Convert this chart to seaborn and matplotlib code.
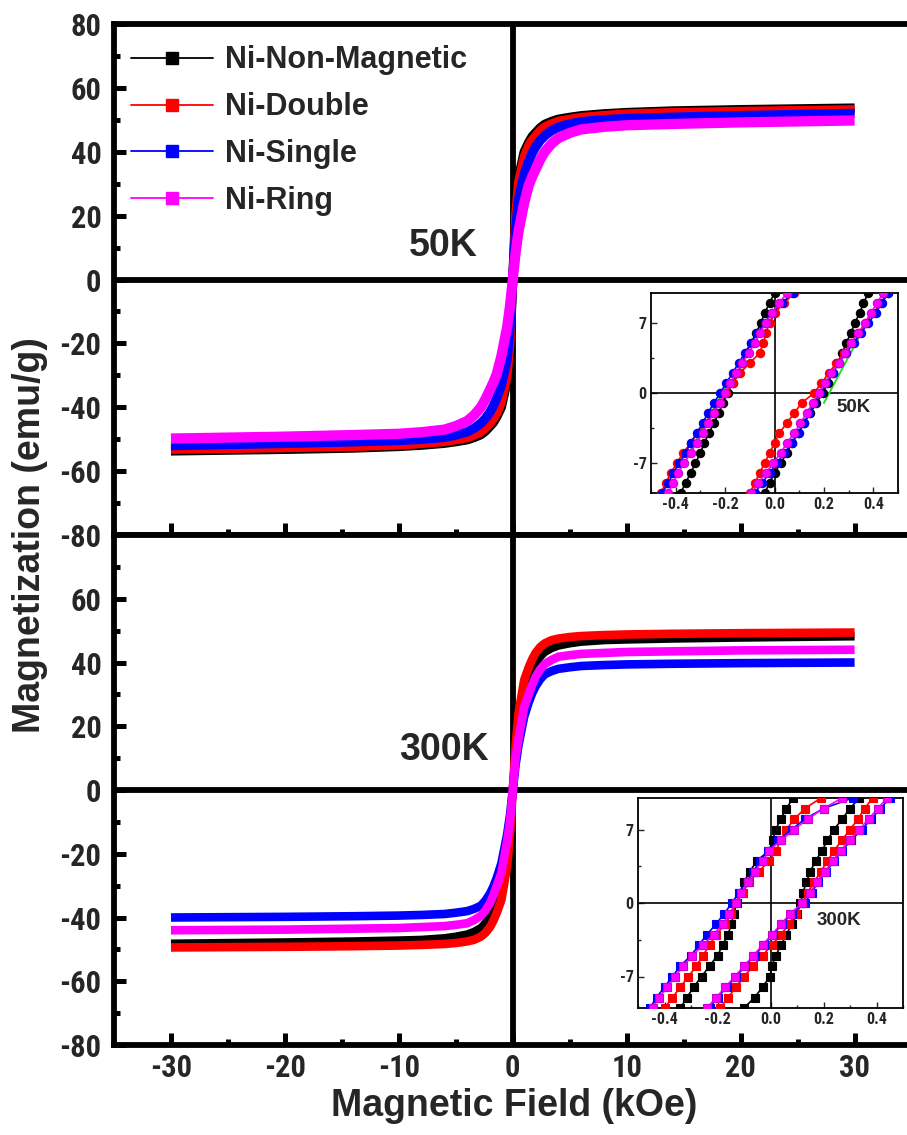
import matplotlib
matplotlib.use("Agg")
import numpy as np
import pandas as pd
import seaborn as sns
import matplotlib.pyplot as plt
from matplotlib.lines import Line2D
from matplotlib.ticker import MultipleLocator, FixedLocator
from matplotlib import font_manager

sns.set_theme(style="white")
plt.rcParams['font.family'] = ['Liberation Sans', 'DejaVu Sans']
plt.rcParams['font.weight'] = 'bold'

_avail = {f.name for f in font_manager.fontManager.ttflist}
_narrow = next((n for n in ['Liberation Sans Narrow', 'Arial Narrow', 'Roboto Condensed',
                            'Open Sans Condensed', 'DejaVu Sans Condensed'] if n in _avail), None)
if _narrow is not None:
    NARROW = [_narrow, 'Liberation Sans', 'DejaVu Sans']
    TICK_FS = 22
else:
    NARROW = ['Liberation Sans', 'DejaVu Sans']
    TICK_FS = 20.5

# ---------------- data ----------------
SERIES = ['Ni-Non-Magnetic', 'Ni-Double', 'Ni-Single', 'Ni-Ring']
COLORS = ['#000000', '#ff0000', '#0000ff', '#ff00ff']

FIELD = [-30, -20, -14, -10, -8, -6, -5, -4, -3.4, -2.8, -2.4, -2, -1.7, -1.4, -1, -0.5, -0.25, 0,
         0.25, 0.5, 1, 1.4, 1.7, 2, 2.4, 2.8, 3.4, 4, 5, 6, 8, 10, 14, 20, 30]

M50_NONMAG = [-53.7, -53.2, -52.8, -52.3, -51.9, -51.3, -50.8, -50.2, -49.5, -48.6, -47.5, -46, -44.8,
              -43, -40, -32, -22, 0, 22, 32, 40, 43, 44.8, 46, 47.5, 48.6, 49.5, 50.2, 50.8, 51.3,
              51.9, 52.3, 52.8, 53.2, 53.7]
M50_DOUBLE = [-53.2, -52.7, -52.3, -51.9, -51.4, -50.8, -50.2, -49.6, -48.8, -47.8, -46.6, -45, -43.7,
              -42, -38.5, -30.5, -20.5, 0, 20.5, 30.5, 38.5, 42, 43.7, 45, 46.6, 47.8, 48.8, 49.6,
              50.2, 50.8, 51.4, 51.9, 52.3, 52.7, 53.2]
M50_SINGLE = [-52, -51.3, -50.8, -50.4, -50, -49.4, -48.7, -47.7, -46.6, -45, -43.5, -41.5, -39.5,
              -37, -33, -25, -15, 0, 15, 25, 33, 37, 39.5, 41.5, 43.5, 45, 46.6, 47.7, 48.7, 49.4,
              50, 50.4, 50.8, 51.3, 52]
M50_RING = [-49.8, -49.2, -48.7, -48.3, -47.8, -47, -45.9, -44.3, -42.5, -40, -37.5, -34.5, -32.2,
            -29.5, -24, -15, -8.5, 0, 8.5, 15, 24, 29.5, 32.2, 34.5, 37.5, 40, 42.5, 44.3, 45.9, 47,
            47.8, 48.3, 48.7, 49.2, 49.8]

M300_NONMAG = [-48.2, -47.8, -47.5, -47.2, -47, -46.5, -46, -45.3, -44.5, -43.3, -41.8, -39.5, -37.3,
               -34.5, -30, -19, -12, 0, 12, 19, 30, 34.5, 37.3, 39.5, 41.8, 43.3, 44.5, 45.3, 46,
               46.5, 47, 47.2, 47.5, 47.8, 48.2]
M300_DOUBLE = [-49.4, -49.2, -49, -48.8, -48.6, -48.3, -48, -47.5, -47, -46, -44.8, -43, -41, -38.5,
               -34.5, -24, -14, 0, 14, 24, 34.5, 38.5, 41, 43, 44.8, 46, 47, 47.5, 48, 48.3, 48.6,
               48.8, 49, 49.2, 49.4]
M300_SINGLE = [-40, -39.8, -39.6, -39.4, -39.2, -38.9, -38.5, -38, -37.3, -36.3, -34.7, -32.5, -30.3,
               -27.5, -23, -14, -8, 0, 8, 14, 23, 27.5, 30.3, 32.5, 34.7, 36.3, 37.3, 38, 38.5, 38.9,
               39.2, 39.4, 39.6, 39.8, 40]
M300_RING = [-44, -43.8, -43.5, -43.3, -43, -42.7, -42.3, -41.8, -40.8, -39.5, -37.8, -35.5, -33, -30,
             -26, -16, -10, 0, 10, 16, 26, 30, 33, 35.5, 37.8, 39.5, 40.8, 41.8, 42.3, 42.7, 43, 43.3,
             43.5, 43.8, 44]

# insets: field (kOe) at which each branch reaches the magnetization levels below
INSET_M = [-10, -9, -8, -7, -6, -5, -4, -3, -2, -1, 0, 1, 2, 3, 4, 5, 6, 7, 8, 9, 10]

I50_NONMAG_DOWN = [-0.38, -0.36, -0.34, -0.32, -0.30, -0.285, -0.265, -0.245, -0.225, -0.21, -0.19,
                   -0.17, -0.15, -0.13, -0.115, -0.095, -0.075, -0.055, -0.04, -0.02, 0.0]
I50_NONMAG_UP = [-0.04, -0.02, 0.0, 0.025, 0.05, 0.07, 0.095, 0.12, 0.145, 0.17, 0.195,
                 0.215, 0.235, 0.255, 0.275, 0.29, 0.31, 0.325, 0.345, 0.36, 0.38]
I50_DOUBLE_DOWN = [-0.46, -0.44, -0.42, -0.395, -0.37, -0.34, -0.31, -0.28, -0.25, -0.22, -0.195,
                   -0.17, -0.14, -0.10, -0.06, -0.045, -0.035, -0.02, 0.0, 0.04, 0.08]
I50_DOUBLE_UP = [-0.10, -0.08, -0.06, -0.04, -0.02, 0.0, 0.02, 0.05, 0.08, 0.11, 0.16,
                 0.19, 0.22, 0.25, 0.28, 0.31, 0.34, 0.37, 0.40, 0.43, 0.46]
I50_SINGLE_DOWN = [-0.455, -0.43, -0.41, -0.385, -0.36, -0.34, -0.315, -0.29, -0.27, -0.245, -0.22,
                   -0.195, -0.17, -0.145, -0.12, -0.095, -0.07, -0.04, -0.01, 0.03, 0.075]
I50_SINGLE_UP = [-0.08, -0.05, -0.02, 0.01, 0.04, 0.07, 0.10, 0.12, 0.14, 0.16, 0.185,
                 0.21, 0.235, 0.26, 0.29, 0.32, 0.35, 0.38, 0.41, 0.435, 0.46]
I50_RING_DOWN = [-0.43, -0.41, -0.39, -0.365, -0.34, -0.315, -0.29, -0.27, -0.245, -0.22, -0.20,
                 -0.18, -0.155, -0.13, -0.105, -0.08, -0.06, -0.035, -0.01, 0.02, 0.05]
I50_RING_UP = [-0.095, -0.065, -0.035, -0.005, 0.025, 0.05, 0.08, 0.105, 0.13, 0.155, 0.18,
               0.205, 0.23, 0.26, 0.285, 0.31, 0.34, 0.365, 0.39, 0.415, 0.44]
I50_GUIDE_H = [-0.345, -0.20, None, 0.20, 0.36]
I50_GUIDE_M = [-6.0, 0.5, None, -1.0, 6.4]

I300_NONMAG_DOWN = [-0.34, -0.315, -0.29, -0.26, -0.23, -0.20, -0.18, -0.16, -0.148, -0.138, -0.128,
                    -0.115, -0.10, -0.078, -0.052, -0.005, 0.008, 0.02, 0.038, 0.06, 0.085]
I300_NONMAG_UP = [-0.10, -0.06, -0.03, -0.002, 0.005, 0.02, 0.04, 0.06, 0.08, 0.10, 0.113,
                  0.123, 0.135, 0.15, 0.17, 0.195, 0.215, 0.24, 0.27, 0.30, 0.335]
I300_DOUBLE_DOWN = [-0.40, -0.37, -0.34, -0.31, -0.28, -0.255, -0.23, -0.205, -0.17, -0.148, -0.13,
                    -0.105, -0.08, -0.045, -0.005, 0.02, 0.04, 0.06, 0.09, 0.13, 0.19]
I300_DOUBLE_UP = [-0.19, -0.16, -0.13, -0.10, -0.065, -0.03, 0.005, 0.04, 0.07, 0.095, 0.12,
                  0.14, 0.165, 0.19, 0.215, 0.24, 0.27, 0.30, 0.33, 0.355, 0.385]
I300_SINGLE_DOWN = [-0.455, -0.43, -0.40, -0.37, -0.34, -0.30, -0.27, -0.24, -0.205, -0.175, -0.145,
                    -0.12, -0.09, -0.065, -0.04, -0.01, 0.03, 0.08, 0.13, 0.20, 0.31]
I300_SINGLE_UP = [-0.23, -0.20, -0.165, -0.13, -0.095, -0.06, -0.025, 0.01, 0.045, 0.08, 0.13,
                  0.155, 0.18, 0.21, 0.24, 0.27, 0.305, 0.345, 0.38, 0.415, 0.45]
I300_RING_DOWN = [-0.445, -0.42, -0.39, -0.36, -0.33, -0.295, -0.255, -0.215, -0.18, -0.155, -0.13,
                  -0.11, -0.085, -0.06, -0.03, -0.005, 0.04, 0.09, 0.14, 0.20, 0.27]
I300_RING_UP = [-0.24, -0.205, -0.17, -0.135, -0.10, -0.065, -0.03, 0.005, 0.04, 0.075, 0.12,
                0.15, 0.175, 0.205, 0.235, 0.265, 0.30, 0.335, 0.37, 0.405, 0.44]

MAIN_YTICKS_TOP = [-80, -60, -40, -20, 0, 20, 40, 60, 80]
MAIN_YTICKS_BOT = [-80, -60, -40, -20, 0, 20, 40, 60]
MAIN_XTICKS = [-30, -20, -10, 0, 10, 20, 30]
INSET_XTICKS = [-0.4, -0.2, 0.0, 0.2, 0.4]
INSET_XLABELS = ['-0.4', '-0.2', '0.0', '0.2', '0.4']
INSET_YTICKS = [-7, 0, 7]

# ---------------- figure ----------------
W, Hpx = 907, 1135
fig = plt.figure(figsize=(W / 100, Hpx / 100), dpi=100)
fig.patch.set_facecolor('white')


def px_box(x0, y0, x1, y1):
    return [x0 / W, 1 - y1 / Hpx, (x1 - x0) / W, (y1 - y0) / Hpx]


ax_top = fig.add_axes(px_box(114, 24, 907, 535))
ax_bot = fig.add_axes(px_box(114, 535, 907, 1045))

SPINE_LW = 4.2
for ax in (ax_top, ax_bot):
    ax.set_facecolor('white')
    ax.set_xlim(-35, 34.6)
    ax.set_ylim(-80, 80)
    for side in ('left', 'bottom', 'top'):
        ax.spines[side].set_visible(True)
        ax.spines[side].set_linewidth(SPINE_LW)
        ax.spines[side].set_color('black')
    ax.spines['right'].set_visible(False)
    ax.axvline(0, color='black', lw=4.2, zorder=1)
    ax.axhline(0, color='black', lw=4.2, zorder=1)
    ax.xaxis.set_major_locator(FixedLocator(MAIN_XTICKS))
    ax.xaxis.set_minor_locator(MultipleLocator(5))
    ax.yaxis.set_minor_locator(MultipleLocator(10))
    ax.tick_params(axis='both', which='major', direction='in', length=8.5, width=3.6,
                   color='black', bottom=True, left=True, top=False, right=False)
    ax.tick_params(axis='both', which='minor', direction='in', length=4.5, width=3.6,
                   color='black', bottom=True, left=True, top=False, right=False)
    ax.tick_params(axis='y', which='major', pad=9)
    ax.grid(False)

ax_top.set_yticks(MAIN_YTICKS_TOP)
ax_bot.set_yticks(MAIN_YTICKS_BOT)
ax_top.set_xticks(MAIN_XTICKS)
ax_top.set_xticklabels([])
ax_bot.set_xticks(MAIN_XTICKS)
ax_bot.set_xticklabels([str(v) for v in MAIN_XTICKS])
ax_top.set_yticklabels([str(v) for v in MAIN_YTICKS_TOP])
ax_bot.set_yticklabels([str(v) for v in MAIN_YTICKS_BOT])
ax_bot.tick_params(axis='x', which='major', pad=6)
for ax in (ax_top, ax_bot):
    for lab in ax.get_xticklabels() + ax.get_yticklabels():
        lab.set_fontfamily(NARROW)
        lab.set_fontsize(TICK_FS)
        lab.set_fontweight('bold')
ax_top.set_xlabel('')
ax_bot.set_xlabel('')

top_sets = [M50_NONMAG, M50_DOUBLE, M50_SINGLE, M50_RING]
bot_sets = [M300_NONMAG, M300_DOUBLE, M300_SINGLE, M300_RING]
top_lw = [6.6, 6.4, 6.8, 7.4]
bot_lw = [6.0, 6.2, 6.2, 6.2]
for name, col, vals, lw in zip(SERIES, COLORS, top_sets, top_lw):
    sns.lineplot(x=FIELD, y=vals, ax=ax_top, color=col, lw=lw, sort=False,
                 estimator=None, zorder=3, legend=False,
                 solid_joinstyle='round', solid_capstyle='butt')
for name, col, vals, lw in zip(SERIES, COLORS, bot_sets, bot_lw):
    sns.lineplot(x=FIELD, y=vals, ax=ax_bot, color=col, lw=lw, sort=False,
                 estimator=None, zorder=3, legend=False,
                 solid_joinstyle='round', solid_capstyle='butt')
ax_top.set_ylabel('')
ax_bot.set_ylabel('')

ax_top.text(-3.1, 10.6, '50K', ha='right', va='center', fontsize=27, fontweight='bold', zorder=5)
ax_bot.text(-2.1, 12.5, '300K', ha='right', va='center', fontsize=27, fontweight='bold', zorder=5)

handles = [Line2D([0], [0], color=c, lw=1.3, marker='s', markersize=8,
                  markerfacecolor=c, markeredgecolor=c) for c in COLORS]
leg = ax_top.legend(handles, SERIES, loc='upper left', bbox_to_anchor=(0.021, 0.958),
                    frameon=False, fontsize=22, handlelength=2.7, handletextpad=0.4,
                    labelspacing=0.55, borderaxespad=0, borderpad=0)
for t in leg.get_texts():
    t.set_fontweight('bold')

fig.text(514 / W, 1 - 1106 / Hpx, 'Magnetic Field (kOe)', ha='center', va='center',
         fontsize=27, fontweight='bold')
fig.text(30 / W, 1 - 535 / Hpx, 'Magnetization (emu/g)', ha='center', va='center',
         rotation=90, fontsize=27, fontweight='bold')


# ---------------- insets ----------------
def make_inset(box, branches, marker, msize, label, label_xy, guide=None):
    axi = fig.add_axes(box)
    axi.set_facecolor('white')
    axi.set_zorder(10)
    axi.set_xlim(-0.5, 0.5)
    axi.set_ylim(-10, 10)
    for s in axi.spines.values():
        s.set_visible(True)
        s.set_linewidth(1.3)
        s.set_color('black')
    axi.axvline(0, color='black', lw=1.2, zorder=1)
    axi.axhline(0, color='black', lw=1.2, zorder=1)
    if guide is not None:
        axi.plot(guide[0], guide[1], color='#22dd22', lw=1.4, zorder=2)
    for col, (down, up) in zip(COLORS, branches):
        ec = col if col != '#ff00ff' else '#cc00cc'
        for br in (down, up):
            sns.lineplot(x=br, y=INSET_M, ax=axi, color=col, lw=1.2, sort=False,
                         estimator=None, marker=marker, markersize=msize,
                         markerfacecolor=col, markeredgecolor=ec, markeredgewidth=0.8,
                         zorder=3, legend=False)
    axi.set_xticks(INSET_XTICKS)
    axi.set_xticklabels(INSET_XLABELS)
    axi.set_yticks(INSET_YTICKS)
    axi.set_yticklabels([str(v) for v in INSET_YTICKS])
    axi.xaxis.set_minor_locator(MultipleLocator(0.1))
    axi.yaxis.set_minor_locator(MultipleLocator(3.5))
    axi.tick_params(which='major', direction='in', length=4, width=1.0, pad=3,
                    bottom=True, left=True, top=False, right=False)
    axi.tick_params(which='minor', direction='in', length=2.2, width=1.0,
                    bottom=True, left=True, top=False, right=False)
    for lab in axi.get_xticklabels() + axi.get_yticklabels():
        lab.set_fontfamily(NARROW)
        lab.set_fontsize(11.5)
        lab.set_fontweight('bold')
    axi.set_xlabel('')
    axi.set_ylabel('')
    axi.grid(False)
    axi.text(label_xy[0], label_xy[1], label, ha='left', va='center',
             fontsize=13.5, fontweight='bold', zorder=6)
    return axi


make_inset(px_box(651, 293, 898, 493),
           [(I50_NONMAG_DOWN, I50_NONMAG_UP), (I50_DOUBLE_DOWN, I50_DOUBLE_UP),
            (I50_SINGLE_DOWN, I50_SINGLE_UP), (I50_RING_DOWN, I50_RING_UP)],
           'o', 6.0, '50K', (0.25, -1.5), guide=(I50_GUIDE_H, I50_GUIDE_M))
make_inset(px_box(638, 798, 903, 1008),
           [(I300_NONMAG_DOWN, I300_NONMAG_UP), (I300_DOUBLE_DOWN, I300_DOUBLE_UP),
            (I300_SINGLE_DOWN, I300_SINGLE_UP), (I300_RING_DOWN, I300_RING_UP)],
           's', 5.5, '300K', (0.175, -1.7))

fig.savefig('out.png', dpi=100, facecolor='white')
